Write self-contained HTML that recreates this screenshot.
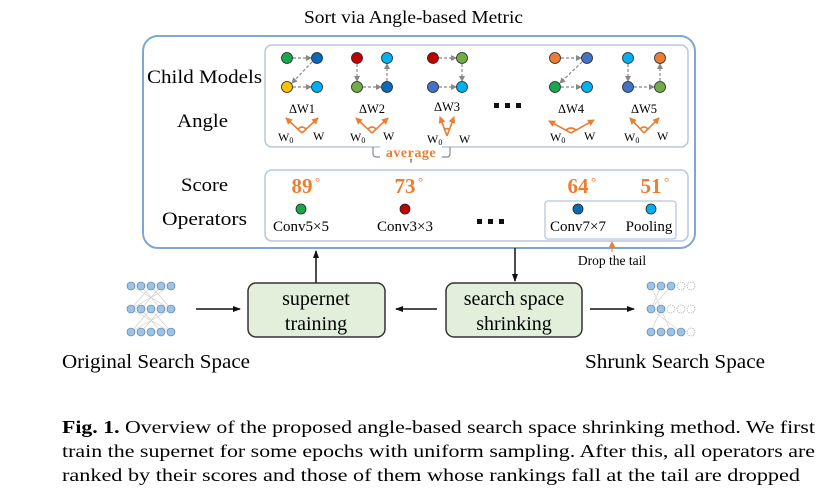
<!DOCTYPE html>
<html><head><meta charset="utf-8"><style>
html,body{margin:0;padding:0;background:#fff}
svg{display:block}
text{font-family:"Liberation Serif",serif}
</style></head><body>
<svg width="823" height="494" viewBox="0 0 823 494" xmlns="http://www.w3.org/2000/svg">
<defs>
<marker id="ga" markerWidth="6" markerHeight="6" refX="5" refY="3" orient="auto" markerUnits="userSpaceOnUse"><path d="M0,0 L6,3 L0,6z" fill="#888"/></marker>
<marker id="oa" markerWidth="7" markerHeight="7" refX="6" refY="3.5" orient="auto" markerUnits="userSpaceOnUse"><path d="M0,0 L7,3.5 L0,7z" fill="#ed7d31"/></marker>
<marker id="ka" markerWidth="8" markerHeight="8" refX="7" refY="4" orient="auto" markerUnits="userSpaceOnUse"><path d="M0,1 L8,4 L0,7z" fill="#111"/></marker>
</defs>
<text x="304" y="23" font-size="18" textLength="219" lengthAdjust="spacingAndGlyphs">Sort via Angle-based Metric</text>
<rect x="143" y="36" width="552" height="212" rx="15" fill="none" stroke="#7fa7d6" stroke-width="2"/>
<rect x="265" y="45" width="423" height="102" rx="7" fill="none" stroke="#b8c8dc" stroke-width="1.5"/>
<rect x="265" y="170" width="423" height="71" rx="7" fill="none" stroke="#b8c8dc" stroke-width="1.5"/>
<g font-size="19">
<text x="147" y="83" textLength="115" lengthAdjust="spacingAndGlyphs">Child Models</text>
<text x="177" y="127" textLength="51" lengthAdjust="spacingAndGlyphs">Angle</text>
<text x="181" y="191" textLength="47" lengthAdjust="spacingAndGlyphs">Score</text>
<text x="162" y="225" textLength="85" lengthAdjust="spacingAndGlyphs">Operators</text>
</g>
<g stroke="#888" stroke-width="1.2" stroke-dasharray="3,2" fill="none" marker-end="url(#ga)">
<line x1="293" y1="58" x2="311" y2="58"/><line x1="312" y1="62" x2="292" y2="83"/><line x1="293" y1="87" x2="311" y2="87"/>
<line x1="357" y1="64" x2="357" y2="81"/><line x1="363" y1="87" x2="381" y2="87"/><line x1="387" y1="81" x2="387" y2="64"/>
<line x1="439" y1="58" x2="456" y2="58"/><line x1="462" y1="64" x2="462" y2="81"/><line x1="439" y1="87" x2="456" y2="87"/>
<line x1="561" y1="58" x2="581" y2="58"/><line x1="582" y1="62" x2="560" y2="83"/><line x1="561" y1="87" x2="581" y2="87"/>
<line x1="628" y1="64" x2="628" y2="81"/><line x1="634" y1="87" x2="654" y2="87"/><line x1="660" y1="81" x2="660" y2="64"/>
</g>
<g stroke="#222" stroke-width="0.8">
<circle cx="287" cy="58" r="5.5" fill="#1aa64a"/><circle cx="317" cy="58" r="5.5" fill="#0a6bb5"/><circle cx="287" cy="87" r="5.5" fill="#ffc000"/><circle cx="317" cy="87" r="5.5" fill="#00b0f0"/>
<circle cx="357" cy="58" r="5.5" fill="#c00000"/><circle cx="387" cy="58" r="5.5" fill="#00b0f0"/><circle cx="357" cy="87" r="5.5" fill="#70ad47"/><circle cx="387" cy="87" r="5.5" fill="#0a6bb5"/>
<circle cx="433" cy="58" r="5.5" fill="#c00000"/><circle cx="462" cy="58" r="5.5" fill="#70ad47"/><circle cx="433" cy="87" r="5.5" fill="#4472c4"/><circle cx="462" cy="87" r="5.5" fill="#00b0f0"/>
<circle cx="555" cy="58" r="5.5" fill="#ed7d31"/><circle cx="587" cy="58" r="5.5" fill="#4472c4"/><circle cx="555" cy="87" r="5.5" fill="#1aa64a"/><circle cx="587" cy="87" r="5.5" fill="#00b0f0"/>
<circle cx="628" cy="58" r="5.5" fill="#00b0f0"/><circle cx="660" cy="58" r="5.5" fill="#ed7d31"/><circle cx="628" cy="87" r="5.5" fill="#4472c4"/><circle cx="660" cy="87" r="5.5" fill="#70ad47"/>
</g>
<g font-size="12.5" text-anchor="middle" font-family="DejaVu Sans">
<text x="302" y="113">ΔW1</text><text x="372" y="113">ΔW2</text><text x="447" y="111">ΔW3</text><text x="571" y="113">ΔW4</text><text x="644" y="113">ΔW5</text>
</g>
<g stroke="#ed7d31" stroke-width="1.6" fill="none">
<path d="M302,133 L286,118" marker-end="url(#oa)"/><path d="M302,133 L318,118" marker-end="url(#oa)"/><path d="M298,129 Q302,125 306,129"/>
<path d="M372,133 L356,118" marker-end="url(#oa)"/><path d="M372,133 L388,118" marker-end="url(#oa)"/><path d="M368,129 Q372,125 376,129"/>
<path d="M447,136 L440,117" marker-end="url(#oa)"/><path d="M447,136 L454,117" marker-end="url(#oa)"/><path d="M444,130 Q447,127 450,130"/>
<path d="M571,133 L549,121" marker-end="url(#oa)"/><path d="M571,133 L594,120" marker-end="url(#oa)"/><path d="M566,130 Q571,126 576,130"/>
<path d="M644,133 L630,118" marker-end="url(#oa)"/><path d="M644,133 L659,118" marker-end="url(#oa)"/><path d="M640,129 Q644,125 648,129"/>
</g>
<g font-size="12" font-family="DejaVu Sans">
<text x="278" y="141">W<tspan font-size="8" dy="2">0</tspan></text><text x="313" y="140">W</text>
<text x="350" y="141">W<tspan font-size="8" dy="2">0</tspan></text><text x="383" y="140">W</text>
<text x="427" y="143">W<tspan font-size="8" dy="2">0</tspan></text><text x="459" y="143">W</text>
<text x="550" y="141">W<tspan font-size="8" dy="2">0</tspan></text><text x="584" y="140">W</text>
<text x="624" y="141">W<tspan font-size="8" dy="2">0</tspan></text><text x="657" y="140">W</text>
</g>
<g fill="#111"><rect x="494" y="103" width="5" height="5"/><rect x="505" y="103" width="5" height="5"/><rect x="516" y="103" width="5" height="5"/>
<rect x="477" y="219" width="5" height="5"/><rect x="488" y="219" width="5" height="5"/><rect x="499" y="219" width="5" height="5"/></g>
<path d="M373,147 L373,154 Q373,157 377,157 L408,157 Q411,157 411,163 Q411,157 414,157 L447,157 Q450,157 450,154 L450,147" fill="none" stroke="#888" stroke-width="1.2"/>
<rect x="380" y="146" width="62" height="13" fill="#fff"/>
<text x="411" y="157" font-size="14" fill="#ed7d31" text-anchor="middle" font-weight="bold" letter-spacing="0.5">average</text>
<g font-size="21" font-weight="bold" fill="#ed7d31" text-anchor="middle">
<text x="302" y="193">89</text><text x="405" y="193">73</text><text x="578" y="193">64</text><text x="651" y="193">51</text>
</g>
<g font-size="13" fill="#ed7d31"><text x="315" y="186">°</text><text x="418" y="186">°</text><text x="591" y="186">°</text><text x="664" y="186">°</text></g>
<rect x="545" y="201" width="131" height="38" rx="3" fill="none" stroke="#b8c8dc" stroke-width="1.3"/>
<g stroke="#222" stroke-width="0.8">
<circle cx="301" cy="209" r="5" fill="#1aa64a"/><circle cx="405" cy="209" r="5" fill="#c00000"/><circle cx="578" cy="209" r="5" fill="#0a6bb5"/><circle cx="651" cy="209" r="5" fill="#00b0f0"/>
</g>
<g font-size="15" text-anchor="middle">
<text x="301" y="231">Conv5×5</text><text x="405" y="231">Conv3×3</text><text x="578" y="231">Conv7×7</text><text x="649" y="231">Pooling</text>
</g>
<line x1="612" y1="252" x2="612" y2="242" stroke="#ed7d31" stroke-width="1" marker-end="url(#oa)"/>
<text x="612" y="265" font-size="13.5" text-anchor="middle">Drop the tail</text>
<line x1="316" y1="283" x2="316" y2="251" stroke="#111" stroke-width="1.5" marker-end="url(#ka)"/>
<line x1="515" y1="248" x2="515" y2="281" stroke="#111" stroke-width="1.5" marker-end="url(#ka)"/>
<rect x="248" y="283" width="137" height="54" rx="8" fill="#e2efda" stroke="#333" stroke-width="1.5"/>
<rect x="446" y="283" width="136" height="54" rx="8" fill="#e2efda" stroke="#333" stroke-width="1.5"/>
<g font-size="20" text-anchor="middle">
<text x="316" y="305">supernet</text><text x="316" y="330">training</text>
<text x="514" y="305">search space</text><text x="514" y="330">shrinking</text>
</g>
<line x1="196" y1="309" x2="240" y2="309" stroke="#111" stroke-width="1.5" marker-end="url(#ka)"/>
<line x1="437" y1="309" x2="396" y2="309" stroke="#111" stroke-width="1.5" marker-end="url(#ka)"/>
<line x1="590" y1="309" x2="634" y2="309" stroke="#111" stroke-width="1.5" marker-end="url(#ka)"/>
<g stroke="#ccc" stroke-width="0.6">
<path d="M131,286 L171,309 M171,286 L131,309 M141,286 L161,309 M161,286 L141,309 M151,286 L131,309 M151,286 L171,309 M131,309 L171,332 M171,309 L131,332 M141,309 L161,332 M161,309 L141,332 M151,309 L131,332 M151,309 L171,332"/>
</g>
<g fill="#9dc3e6" stroke="#4a6f9a" stroke-width="0.6">
<circle cx="131" cy="286" r="4"/><circle cx="141" cy="286" r="4"/><circle cx="151" cy="286" r="4"/><circle cx="161" cy="286" r="4"/><circle cx="171" cy="286" r="4"/>
<circle cx="131" cy="309" r="4"/><circle cx="141" cy="309" r="4"/><circle cx="151" cy="309" r="4"/><circle cx="161" cy="309" r="4"/><circle cx="171" cy="309" r="4"/>
<circle cx="131" cy="332" r="4"/><circle cx="141" cy="332" r="4"/><circle cx="151" cy="332" r="4"/><circle cx="161" cy="332" r="4"/><circle cx="171" cy="332" r="4"/>
</g>
<g stroke="#ccc" stroke-width="0.6"><path d="M651,286 L661,309 M671,286 L651,309 M651,309 L681,332 M661,309 L651,332 M661,286 L651,309 M661,309 L671,332"/></g>
<g fill="#9dc3e6" stroke="#4a6f9a" stroke-width="0.6">
<circle cx="651" cy="286" r="4"/><circle cx="661" cy="286" r="4"/><circle cx="671" cy="286" r="4"/>
<circle cx="651" cy="309" r="4"/><circle cx="661" cy="309" r="4"/>
<circle cx="651" cy="332" r="4"/><circle cx="661" cy="332" r="4"/><circle cx="671" cy="332" r="4"/><circle cx="681" cy="332" r="4"/>
</g>
<g fill="none" stroke="#999" stroke-width="0.6" stroke-dasharray="1.5,1">
<circle cx="681" cy="286" r="4"/><circle cx="691" cy="286" r="4"/>
<circle cx="671" cy="309" r="4"/><circle cx="681" cy="309" r="4"/><circle cx="691" cy="309" r="4"/>
<circle cx="691" cy="332" r="4"/>
</g>
<g font-size="20">
<text x="62" y="368" textLength="188" lengthAdjust="spacingAndGlyphs">Original Search Space</text>
<text x="585" y="368" textLength="180" lengthAdjust="spacingAndGlyphs">Shrunk Search Space</text>
</g>
<g font-size="18">
<text x="62" y="433" textLength="753" lengthAdjust="spacingAndGlyphs"><tspan font-weight="bold">Fig. 1.</tspan> Overview of the proposed angle-based search space shrinking method. We first</text>
<text x="62" y="457" textLength="753" lengthAdjust="spacingAndGlyphs">train the supernet for some epochs with uniform sampling. After this, all operators are</text>
<text x="62" y="481" textLength="738" lengthAdjust="spacingAndGlyphs">ranked by their scores and those of them whose rankings fall at the tail are dropped</text>
</g>
</svg>
</body></html>
